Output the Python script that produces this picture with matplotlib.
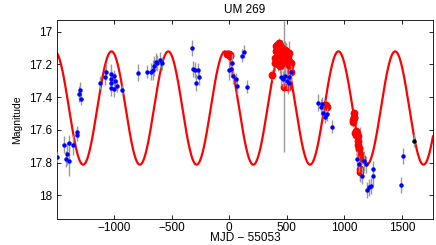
import numpy as np
import matplotlib.pyplot as plt

plt.rcParams['font.family'] = ['Liberation Sans', 'DejaVu Sans']

# blue points: MJD-55053, magnitude, error
blue_t = [-1496, -1432, -1423, -1409, -1389, -1389, -1357, -1325, -1325, -1302, -1293, -1290,
          -1122, -1084, -1067, -1030, -1026, -1026, -1032, -1006, -1003, -997, -977, -928,
          -795, -713, -684, -664, -650, -638, -626, -603, -583,
          -328, -317, -299, -287, -273, -264,
          -6, 17, 20, 29, 57, 63, 107, 130, 157,
          449, 470, 484, 498, 518, 518, 536,
          770, 794, 809, 817, 829, 846, 890,
          1107, 1130, 1157, 1174, 1188, 1194, 1217, 1229, 1246, 1252, 1492, 1513]
blue_m = [17.766, 17.690, 17.777, 17.746, 17.679, 17.793, 17.693, 17.615, 17.630, 17.381, 17.357, 17.410,
          17.312, 17.277, 17.245, 17.289, 17.259, 17.312, 17.342, 17.352, 17.273, 17.303, 17.330, 17.357,
          17.251, 17.245, 17.245, 17.234, 17.210, 17.183, 17.193, 17.173, 17.193,
          17.102, 17.228, 17.234, 17.312, 17.234, 17.279,
          17.236, 17.230, 17.190, 17.271, 17.291, 17.332, 17.149, 17.122, 17.338,
          17.279, 17.291, 17.271, 17.300, 17.279, 17.312, 17.247,
          17.434, 17.462, 17.442, 17.499, 17.520, 17.505, 17.581,
          17.779, 17.810, 17.880, 17.790, 17.811, 17.968, 17.952, 17.944, 17.838, 17.885, 17.936, 17.760]
blue_e = [0.03, 0.05, 0.05, 0.07, 0.05, 0.09, 0.06, 0.04, 0.04, 0.05, 0.05, 0.04,
          0.04, 0.05, 0.05, 0.06, 0.06, 0.05, 0.05, 0.05, 0.04, 0.05, 0.04, 0.03,
          0.05, 0.04, 0.05, 0.06, 0.06, 0.05, 0.05, 0.05, 0.04,
          0.05, 0.05, 0.05, 0.05, 0.04, 0.05,
          0.06, 0.05, 0.05, 0.05, 0.04, 0.05, 0.04, 0.04, 0.04,
          0.05, 0.05, 0.06, 0.05, 0.05, 0.05, 0.04,
          0.05, 0.05, 0.04, 0.05, 0.04, 0.04, 0.04,
          0.05, 0.05, 0.05, 0.06, 0.05, 0.05, 0.05, 0.05, 0.05, 0.05, 0.05, 0.05]

# red points
red_t = [-20, -10, 0, 5, 10,
         368, 397, 400, 405, 410, 415, 420, 425, 430, 435, 440, 445, 450, 455, 460, 465,
         470, 475, 480, 485, 490, 495, 500, 505, 510, 515, 520, 530, 533, 540, 507, 475, 425, 440,
         830, 837, 846,
         1075, 1078, 1082, 1083, 1085, 1092, 1098, 1100, 1110, 1115, 1121, 1121, 1125, 1127,
         1136, 1140, 1140, 1145, 1150]
red_m = [17.14, 17.135, 17.14, 17.15, 17.145,
         17.265, 17.19, 17.16, 17.12, 17.09, 17.08, 17.10, 17.13, 17.07, 17.11, 17.09, 17.14, 17.12, 17.10, 17.16, 17.13,
         17.18, 17.15, 17.11, 17.19, 17.14, 17.12, 17.17, 17.20, 17.15, 17.13, 17.18, 17.21, 17.25, 17.19, 17.34, 17.336, 17.20, 17.21,
         17.45, 17.448, 17.462,
         17.54, 17.555, 17.50, 17.53, 17.52, 17.62, 17.61, 17.63, 17.62, 17.67, 17.64, 17.69, 17.72, 17.71,
         17.856, 17.84, 17.75, 17.76, 17.77]
red_e = [0.02, 0.02, 0.02, 0.02, 0.02,
         0.03, 0.05, 0.04, 0.04, 0.03, 0.03, 0.04, 0.05, 0.03, 0.04, 0.04, 0.05, 0.06, 0.05, 0.05, 0.06,
         0.05, 0.06, 0.05, 0.06, 0.07, 0.05, 0.06, 0.06, 0.05, 0.07, 0.06, 0.05, 0.05, 0.04, 0.04, 0.40, 0.04, 0.05,
         0.03, 0.03, 0.03,
         0.03, 0.03, 0.03, 0.03, 0.03, 0.03, 0.03, 0.03, 0.03, 0.03, 0.03, 0.03, 0.03, 0.03,
         0.05, 0.04, 0.17, 0.04, 0.04]

# black point
black_t = [1609]
black_m = [17.668]
black_e = [0.04]

# sinusoidal model
period = 493.0
t_faint = 209.0
mean_mag = 17.467
amp = 0.346

xlim = (-1496, 1770)

fig = plt.figure(figsize=(4.36, 2.45), dpi=100)
ax = fig.add_axes([0.131, 0.106, 0.862, 0.812])

t_mod = np.linspace(xlim[0], xlim[1], 2000)
m_mod = mean_mag + amp * np.cos(2 * np.pi * (t_mod - t_faint) / period)
ax.plot(t_mod, m_mod, color='red', lw=1.6, zorder=2)

ax.errorbar(red_t, red_m, yerr=red_e, fmt='o', color='red', ecolor='0.6',
            elinewidth=1, capsize=0, markersize=4.6, zorder=3)
ax.errorbar(blue_t, blue_m, yerr=blue_e, fmt='o', color='blue', ecolor='0.6',
            elinewidth=1, capsize=0, markersize=2.2, zorder=4)
ax.errorbar(black_t, black_m, yerr=black_e, fmt='o', color='black', ecolor='0.6',
            elinewidth=1, capsize=0, markersize=2.2, zorder=4)

ax.set_xlim(*xlim)
ax.set_ylim(18.145, 16.93)
ax.set_xticks([-1000, -500, 0, 500, 1000, 1500])
ax.set_yticks([17, 17.2, 17.4, 17.6, 17.8, 18])
ax.set_yticklabels(['17', '17.2', '17.4', '17.6', '17.8', '18'])
ax.tick_params(direction='in', top=True, right=True, labelsize=8.5, length=3, width=0.6)
ax.tick_params(axis='x', pad=2)
for sp in ax.spines.values():
    sp.set_linewidth(0.6)
ax.set_title('UM 269', fontsize=8.5, pad=5)
ax.set_xlabel('MJD \u2212 55053', fontsize=8.5, labelpad=-1)
ax.set_ylabel('Magnitude', fontsize=7.5, labelpad=5)

fig.savefig('out.png', dpi=100)
